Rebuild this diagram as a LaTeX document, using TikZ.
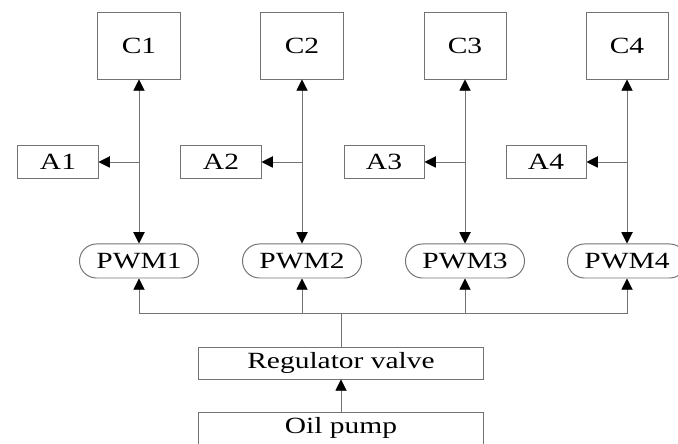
\documentclass[tikz,border=0pt]{standalone}
\usepackage{fontspec}
\setmainfont[FakeStretch=1.27]{Liberation Serif}
\usetikzlibrary{arrows.meta,shapes.misc}

\begin{document}
\begin{tikzpicture}[x=0.025cm, y=-0.025cm,
every node/.style = {draw=black!55, line width=0.7pt, align=center,
	inner sep=0pt, font=\fontsize{16.5}{18}\selectfont},
cbox/.style = {minimum width=2.05cm, minimum height=1.65cm},
abox/.style = {minimum width=2cm, minimum height=0.8cm},
pwm/.style = {rounded rectangle, minimum width=2.975cm, minimum height=0.85cm},
wide/.style = {minimum width=7.1cm, minimum height=0.8cm},
line/.style = {draw=black!55, line width=0.7pt},
tip/.style = {line, -{Triangle[width=8pt,length=8pt,color=black]}}]

\useasboundingbox (0,0) rectangle (678,444);

% channels
\foreach \i/\x in {1/139, 2/302, 3/465, 4/627} {
	\node[cbox] (c\i) at (\x,46) {C\i};
	\node[abox] (a\i) at (\x-81,162) {A\i};
	\node[pwm] (pwm\i) at (\x,261) {PWM\i};
	\coordinate (tap\i) at (\x,162);
	\draw[tip, {Triangle[width=8pt,length=8pt,color=black]}-{Triangle[width=8pt,length=8pt,color=black]}] (c\i.south) -- (pwm\i.north);
	\draw[tip] (tap\i) -- (a\i.east);
}

% supply
\node[wide] (valve) at (341,363) {Regulator valve};
\node[wide] (pump) at (341,428) {Oil pump};
\coordinate (bus) at (341,313);

\draw[line] (valve.north) -- (bus);
\foreach \i in {1,...,4}
	\draw[tip] (bus) -| (pwm\i.south);
\draw[tip] (pump.north) -- (valve.south);
\end{tikzpicture}
\end{document}
